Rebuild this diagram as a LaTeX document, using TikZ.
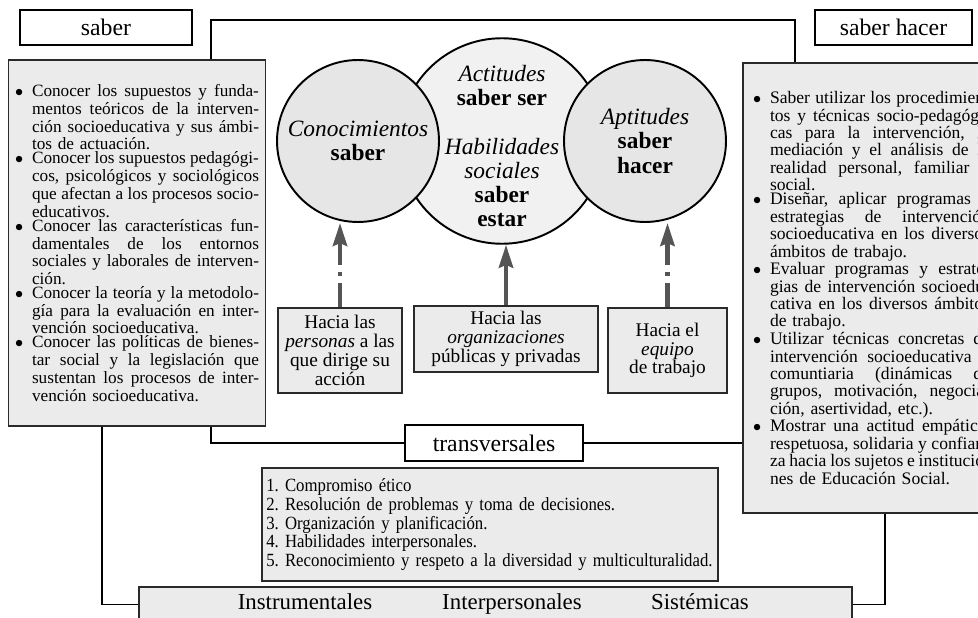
\documentclass[tikz,border=0pt]{standalone}
\usepackage{fontspec}
\setmainfont{Liberation Serif}
\newfontfamily\condfont[FakeStretch=0.9]{Liberation Serif}
\usepackage{tikz}
\usetikzlibrary{arrows.meta}

\definecolor{boxgray}{HTML}{EBEBEB}
\definecolor{circgray}{HTML}{E6E6E6}
\definecolor{midgray}{HTML}{F1F1F1}
\definecolor{arrowgray}{HTML}{555555}
\definecolor{edgegray}{HTML}{2A2A2A}

\newskip\anchoesp
\anchoesp=0.25em plus 2em minus 0.12em\relax
\newcommand{\jline}[1]{{\spaceskip=\anchoesp\relax\makebox[\linewidth][s]{#1}}}
\newcommand{\bitem}[2][4.54cm]{\noindent\makebox[0.34cm][l]{\small$\bullet$}\parbox[t]{#1}{#2}\par}

\begin{document}
\frenchspacing
\lineskiplimit=-4pt\relax
\begin{tikzpicture}[x=0.02cm,y=-0.02cm,
  etiq/.style={draw=black,fill=white,line width=0.8pt,inner sep=0pt,minimum height=0.7cm,font=\fontsize{13.5}{15}\selectfont},
  lista/.style={draw=edgegray,fill=boxgray,line width=0.9pt,inner sep=0pt,text width=4.88cm,minimum width=5.14cm,font=\fontsize{9.8}{10.1}\selectfont},
  circ/.style={circle,draw=black,line width=1.1pt,fill=circgray,inner sep=0pt,minimum size=3.24cm,align=center,font=\fontsize{13.3}{13.7}\selectfont},
  hacia/.style={draw=edgegray,fill=boxgray,line width=0.9pt,inner sep=0pt,minimum height=1.7cm,align=center,font=\fontsize{11}{10.7}\selectfont},
  conn/.style={line width=1.2pt},
  connfino/.style={line width=0.6pt},
  flecha/.style={draw=arrowgray,line width=2.6pt,-{Stealth[length=13pt,width=8pt,inset=1.5pt]}},
  punteada/.style={dash pattern=on 14pt off 4pt on 2.2pt off 4pt on 300pt}]
\useasboundingbox (0,0) rectangle (978,618);
\clip (0,0) rectangle (978,618);

% etiquetas de arriba
\node[etiq,minimum width=3.44cm] (sab) at (106,27.5) {saber};
\node[etiq,minimum width=3.14cm] (sabhac) at (893.5,27.5) {saber hacer};

% cajas laterales
\node[lista,minimum height=7.32cm] (izq) at (137,243) {%
\bitem{\jline{Conocer los supuestos y funda-}\\\jline{mentos teóricos de la interven-}\\\jline{ción socioeducativa y sus ámbi-}\\tos de actuación.}
\bitem{\jline{Conocer los supuestos pedagógi-}\\\jline{cos, psicológicos y sociológicos}\\\jline{que afectan a los procesos socio-}\\educativos.}
\bitem{\jline{Conocer las características fun-}\\\jline{damentales de los entornos}\\\jline{sociales y laborales de interven-}\\ción.}
\bitem{\jline{Conocer la teoría y la metodolo-}\\\jline{gía para la evaluación en inter-}\\vención socioeducativa.}
\bitem{\jline{Conocer las políticas de bienes-}\\\jline{tar social y la legislación que}\\\jline{sustentan los procesos de inter-}\\vención socioeducativa.}};
\node[lista,text width=4.74cm,minimum height=9cm,font=\fontsize{10}{9.9}\selectfont] (der) at (871.5,288) {%
\bitem[4.4cm]{\jline{Saber utilizar los procedimien-}\\\jline{tos y técnicas socio-pedagógi-}\\\jline{cas para la intervención, la}\\\jline{mediación y el análisis de la}\\\jline{realidad personal, familiar y}\\social.}
\bitem[4.4cm]{\jline{Diseñar, aplicar programas y}\\\jline{estrategias de intervención}\\\jline{socioeducativa en los diversos}\\ámbitos de trabajo.}
\bitem[4.4cm]{\jline{Evaluar programas y estrate-}\\\jline{gias de intervención socioedu-}\\\jline{cativa en los diversos ámbitos}\\de trabajo.}
\bitem[4.4cm]{\jline{Utilizar técnicas concretas de}\\\jline{intervención socioeducativa y}\\\jline{comuntiaria (dinámicas de}\\\jline{grupos, motivación, negocia-}\\ción, asertividad, etc.).}
\bitem[4.4cm]{\jline{Mostrar una actitud empática,}\\\jline{respetuosa, solidaria y confian-}\\\jline{za hacia los sujetos e institucio-}\\nes de Educación Social.}};

% circulos
\node[circ,fill=midgray,minimum size=3.88cm] (actit) at (502,141)
  {\rule{0pt}{15pt}\textit{Actitudes}\\\textbf{saber ser}\\[13.7pt]\textit{Habilidades}\\\textit{sociales}\\\textbf{saber}\\\textbf{estar}};
\node[circ] (conoc) at (358,141) {\textit{Conocimientos}\\\textbf{saber}};
\node[circ] (aptit) at (645,141) {\textit{Aptitudes}\\\textbf{saber}\\\textbf{hacer}};

% hacia ...
\node[hacia,minimum width=2.48cm] (hpers) at (340,350.5) {Hacia las\\\textit{personas} a las\\que dirige su\\acción};
\node[hacia,minimum width=3.68cm,minimum height=1.32cm] (horg) at (506,339) {Hacia las\\\textit{organizaciones}\\públicas y privadas};
\node[hacia,minimum width=2.38cm] (hequ) at (667.5,350.5) {Hacia el\\\textit{equipo}\\de trabajo};

\draw[flecha,punteada] (hpers.north) -- (hpers.north |- conoc.south);
\draw[flecha] (horg.north) -- (horg.north |- actit.south);
\draw[flecha,punteada] (hequ.north) -- (hequ.north |- aptit.south);

% transversales
\node[etiq,minimum width=3.56cm,minimum height=0.72cm] (transv) at (494,443) {transversales};
\node[draw=edgegray,fill=boxgray,line width=0.9pt,inner sep=0pt,text width=8.95cm,minimum width=9.12cm,minimum height=2.26cm,align=left,font=\condfont\fontsize{10.6}{8.9}\selectfont] (transl) at (490,524.5)
  {1. Compromiso ético\\2. Resolución de problemas y toma de decisiones.\\3. Organización y planificación.\\4. Habilidades interpersonales.\\5. Reconocimiento y respeto a la diversidad y multiculturalidad.};

% caja de abajo
\node[draw=edgegray,fill=boxgray,line width=0.9pt,inner sep=0pt,minimum width=14.26cm,minimum height=0.7cm] (comp) at (495.5,604.5) {};
\foreach \x/\t/\n in {305/Instrumentales/instr,512/Interpersonales/inter,700/Sistémicas/siste}
  \node[font=\fontsize{13}{15}\selectfont,anchor=base] (\n) at (\x,609) {\t};

% lineas
\coordinate (c1) at (211,20);
\coordinate (c2) at (795,20);
\coordinate (c3) at (211,443);
\coordinate (c4) at (102,0);
\coordinate (c5) at (885,0);
\draw[conn] (izq.north -| c1) -- (c1) -- (c2) -- (der.north -| c2);
\draw[conn] (izq.south -| c3) -- (c3) -- (transv.west);
\draw[conn] (transv.east) -- (transv.east -| der.west);
\draw[connfino] (izq.south -| c4) |- (comp.west);
\draw[connfino] (der.south -| c5) |- (comp.east);
\end{tikzpicture}
\end{document}
